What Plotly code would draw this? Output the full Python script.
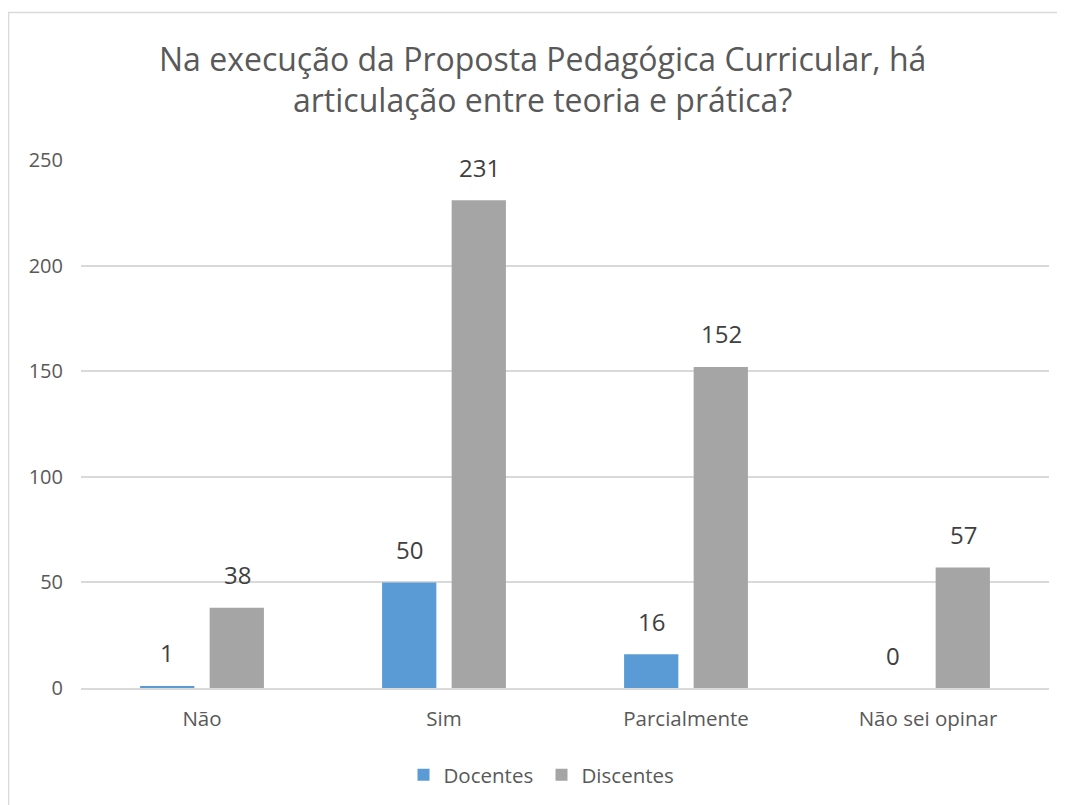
import plotly.graph_objects as go

categories = ["Não", "Sim", "Parcialmente", "Não sei opinar"]
docentes = [1, 50, 16, 0]
discentes = [38, 231, 152, 57]
series_names = ["Docentes", "Discentes"]
title_lines = ["Na execução da Proposta Pedagógica Curricular, há",
               "articulação entre teoria e prática?"]
y_ticks = [0, 50, 100, 150, 200, 250]

FONT = "Open Sans"
BLUE = "#5B9BD5"
GRAY = "#A5A5A5"
TXT = "#595959"
LBL = "#404040"

# plot area geometry (figure pixels)
PL, PT, PW, PH = 73, 152, 968, 528
FW, FH = 1057, 797


def py(page_y):
    """page pixel y -> paper coordinate"""
    return ((PT + PH) - (page_y - 8)) / PH


def px(page_x):
    return ((page_x - 8) - PL) / PW


fig = go.Figure()
fig.add_trace(go.Bar(name=series_names[0], x=categories, y=docentes,
                     marker=dict(color=BLUE, line=dict(width=0))))
fig.add_trace(go.Bar(name=series_names[1], x=categories, y=discentes,
                     marker=dict(color=GRAY, line=dict(width=0))))

# data labels
for vals, shift in ((docentes, -35), (discentes, 35)):
    for c, v in zip(categories, vals):
        fig.add_annotation(x=c, y=v, xref="x", yref="y", text=str(v),
                           showarrow=False, xshift=shift, yshift=33,
                           yanchor="middle",
                           font=dict(family=FONT, size=24, color=LBL))

# title lines
for i, line in enumerate(title_lines):
    fig.add_annotation(x=px(542), xref="paper", y=py(58 + 41 * i),
                       yref="paper", text=line, showarrow=False,
                       yanchor="middle", xanchor="center",
                       font=dict(family=FONT, size=32, color=TXT))

# chart border
fig.add_shape(type="rect", xref="paper", yref="paper",
              x0=px(8.5), x1=px(1080), y0=py(830), y1=py(12.5),
              line=dict(color="#D9D9D9", width=1.5), layer="below")

fig.update_layout(
    width=FW, height=FH,
    margin=dict(l=PL, r=FW - PL - PW, t=PT, b=FH - PT - PH, autoexpand=False),
    paper_bgcolor="white", plot_bgcolor="white",
    barmode="group", bargap=0.425, bargroupgap=0.22,
    font=dict(family=FONT, size=20, color=TXT),
    showlegend=True,
    legend=dict(orientation="h", x=px(541.5), xanchor="center",
                y=py(775), yanchor="middle",
                font=dict(family=FONT, size=20.5, color=TXT),
                itemwidth=30, tracegroupgap=0,
                entrywidth=93, entrywidthmode="pixels"),
    xaxis=dict(showgrid=False, showline=True, linecolor="#D9D9D9",
               linewidth=1.5, ticks="", ticklabelstandoff=12,
               tickfont=dict(family=FONT, size=20.5, color=TXT)),
    yaxis=dict(range=[0, 250], tickvals=y_ticks, showgrid=True,
               gridcolor="#D9D9D9", gridwidth=1.5, zeroline=False,
               showline=False, ticks="", ticklabelstandoff=17,
               tickfont=dict(family=FONT, size=20, color=TXT)),
)

fig.write_html("out.html")
